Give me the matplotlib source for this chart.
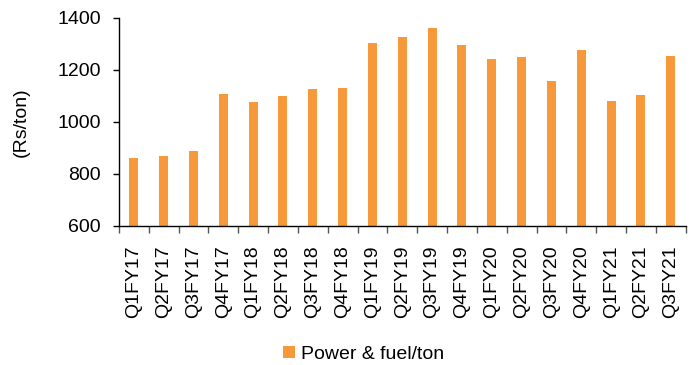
import matplotlib
matplotlib.use('Agg')
import matplotlib.pyplot as plt
import numpy as np

plt.rcParams['font.family'] = ['Liberation Sans', 'DejaVu Sans']

quarters = ['Q1FY17', 'Q2FY17', 'Q3FY17', 'Q4FY17', 'Q1FY18', 'Q2FY18', 'Q3FY18',
            'Q4FY18', 'Q1FY19', 'Q2FY19', 'Q3FY19', 'Q4FY19', 'Q1FY20', 'Q2FY20',
            'Q3FY20', 'Q4FY20', 'Q1FY21', 'Q2FY21', 'Q3FY21']
powerFuel = [860, 869, 888, 1106, 1077, 1101, 1125, 1130, 1303, 1325, 1362,
             1294, 1240, 1251, 1156, 1275, 1078, 1103, 1254]

# Draw chart.
fig = plt.figure(figsize=(6.99, 3.65), dpi=100)
ax = fig.add_axes([0.170, 0.382, 0.811, 0.569])
x = np.arange(len(quarters))
ax.bar(x, powerFuel, width=0.3, color='#F7983A', label='Power & fuel/ton')

ax.set_xlim(-0.5, len(quarters) - 0.5)
ax.set_ylim(600, 1400)
ax.set_yticks([600, 800, 1000, 1200, 1400])
ax.set_xticks(x)
ax.set_xticklabels(quarters, rotation=90, fontsize=14)
ax.tick_params(axis='x', length=0, pad=14)
ax.set_xticks(np.arange(-0.5, len(quarters), 1), minor=True)
ax.tick_params(axis='x', which='minor', length=5, width=1, color='#555555')
ax.tick_params(axis='y', labelsize=14, length=4, width=1, pad=9)
ax.set_ylabel('(Rs/ton)', fontsize=14, labelpad=20)

for side in ['top', 'right']:
    ax.spines[side].set_visible(False)
for side in ['left', 'bottom']:
    ax.spines[side].set_linewidth(1)

fig.legend(loc='center', bbox_to_anchor=(0.52, 0.03), frameon=False, fontsize=14,
           handlelength=0.6, handleheight=0.6, handletextpad=0.3)

plt.savefig('out.png', dpi=100)
